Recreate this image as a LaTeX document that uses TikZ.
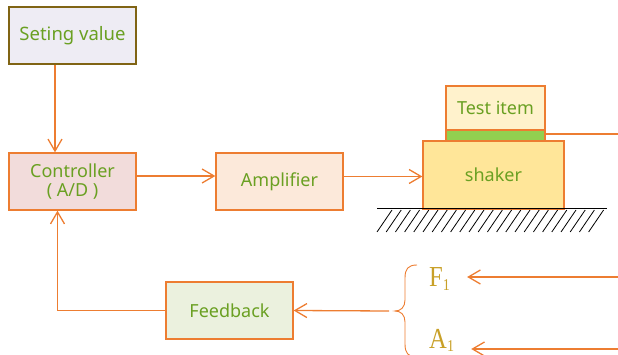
\documentclass[tikz,border=0pt]{standalone}
\usepackage{fontspec}
\setmainfont{Noto Sans}
\newfontfamily\serifF{Liberation Serif}
\usetikzlibrary{arrows.meta}
\definecolor{lineor}{RGB}{237,125,49}
\definecolor{txtgreen}{RGB}{106,160,34}
\definecolor{goldtxt}{RGB}{200,160,40}
\definecolor{olivebd}{RGB}{128,100,20}
\definecolor{lavfill}{RGB}{238,236,244}
\definecolor{ctrlfill}{RGB}{242,220,219}
\definecolor{ampfill}{RGB}{252,233,218}
\definecolor{fbfill}{RGB}{235,241,222}
\definecolor{shkfill}{RGB}{255,230,153}
\definecolor{testfill}{RGB}{255,242,204}
\definecolor{stripfill}{RGB}{146,208,80}
\tikzset{
  blk/.style={draw=lineor, line width=1.3pt, minimum width=127pt, minimum height=57pt,
    inner sep=0pt, text=txtgreen, font=\fontsize{18}{22}\selectfont, align=center},
  arr/.style={draw=lineor, line width=1.3pt, -{Straight Barb[length=12pt,width=14pt,line width=1.3pt]}},
  ln/.style={draw=lineor, line width=1.3pt},
  sym/.style={text=goldtxt, font=\serifF, inner sep=0pt, anchor=base west}
}
\newcommand{\symtxt}[1]{\scalebox{0.85}[1]{\fontsize{29}{29}\selectfont #1\lower3.5pt\hbox{\fontsize{16.5}{16.5}\selectfont 1}}}
\begin{document}
\begin{tikzpicture}[x=1pt,y=-1pt]
\useasboundingbox (0,0) rectangle (618,355);
\node[blk, draw=olivebd, fill=lavfill, font=\fontsize{18.5}{22}\selectfont] (setv) at (72.5,35.5) {Seting value};
\node[blk, fill=ctrlfill] (ctrl) at (72.5,181.5) {Controller\\[-3pt]( A/D )};
\node[blk, fill=ampfill] (amp) at (279.5,181.5) {Amplifier};
\node[blk, fill=shkfill, minimum width=141pt, minimum height=68pt] (shaker) at (493.5,175) {shaker};
\node[blk, fill=stripfill, minimum width=99pt, minimum height=11pt] (strip) at (495.5,135.5) {};
\node[blk, fill=testfill, minimum width=99pt, minimum height=44pt] (test) at (495.5,108) {Test item};
\node[blk, fill=fbfill] (fb) at (229.5,310.5) {Feedback};
\node[sym] (F) at (429,287) {\symtxt{F}};
\node[sym] (A) at (429,348) {\symtxt{A}};
\coordinate (rS) at (618,134);
\coordinate (rF) at (618,277);
\coordinate (rA) at (618,349);
\coordinate (brtip) at (389,311);
% connectors
\draw[arr] ([xshift=-17.5pt]setv.south) -- ([xshift=-17.5pt]ctrl.north);
\draw[arr] ([yshift=5.5pt]ctrl.east) -- ([yshift=5.5pt]ctrl.east -| amp.west);
\draw[arr] ([yshift=5pt]amp.east) -- ([yshift=5pt]amp.east -| shaker.west);
\draw[ln] (strip.east |- rS) -- (rS);
\draw[arr] (fb.west) -| ([xshift=-15pt]ctrl.south);
\draw[arr] (brtip) -- (fb.east);
\draw[arr] (rF) -- ([xshift=17pt]F.east |- rF);
\draw[arr] (rA) -- ([xshift=17pt]A.east |- rA);
% brace
\draw[lineor, line width=0.9pt] (417,265) .. controls (408,265) and (405,269) .. (405,278)
  -- (405,300) .. controls (405,307) and (401,311) .. (395,311)
  .. controls (401,311) and (405,315) .. (405,322)
  -- (405,344) .. controls (405,353) and (408,357) .. (417,357);
% ground
\draw[black, line width=1pt] (377,209) -- (607,209);
\foreach \i in {0,...,23} {
  \draw[black, line width=0.8pt] (377+\i*9.2,232) -- (392+\i*9.2,210);
}
\end{tikzpicture}
\end{document}
